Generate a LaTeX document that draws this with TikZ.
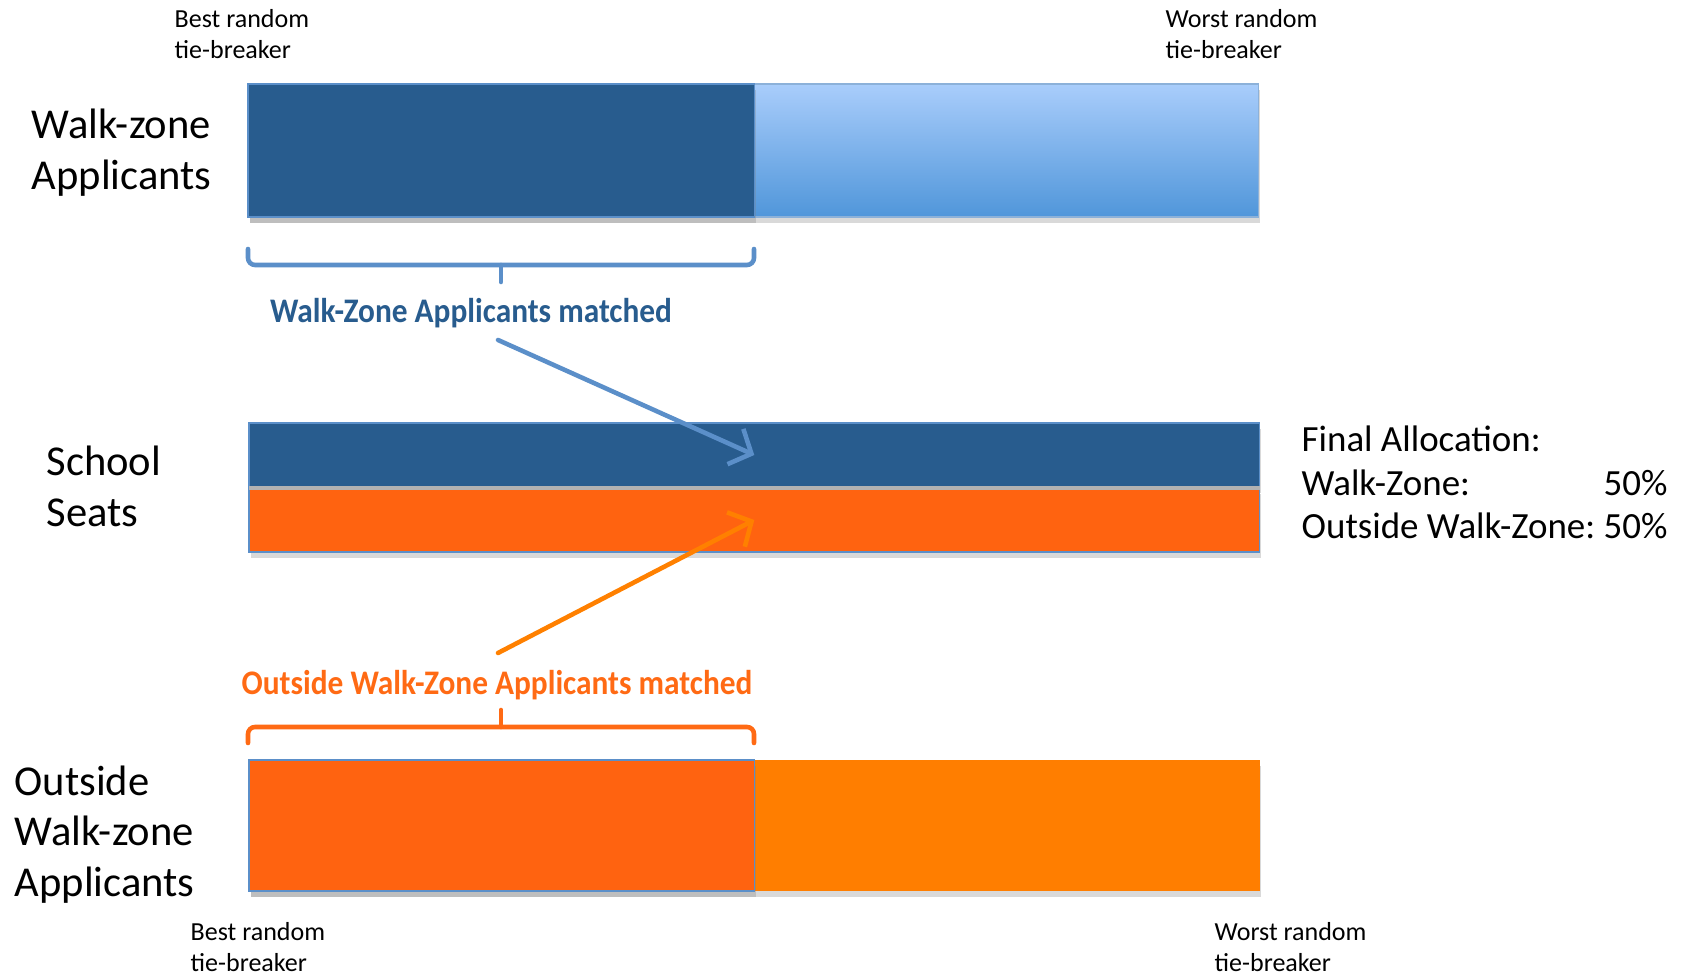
\documentclass[tikz,border=0pt]{standalone}
\usepackage{fontspec}
\setmainfont{Carlito}
\usetikzlibrary{shadows,arrows.meta}

\definecolor{wzdark}{HTML}{285C8E}
\definecolor{wztop}{HTML}{A9CDFB}
\definecolor{wzbottom}{HTML}{5096DA}
\definecolor{wzline}{HTML}{5B8FC9}
\definecolor{owdark}{HTML}{FF6310}
\definecolor{owlight}{HTML}{FF7E00}
\definecolor{owtext}{HTML}{FF6A14}
\definecolor{owarrow}{HTML}{FF8000}

\newcommand{\squeezed}[1]{\scalebox{0.91}[1]{#1}}

\begin{document}
\begin{tikzpicture}[
		x=0.01cm, y=-0.01cm,
		bar/.style={inner sep=0pt, outer sep=0pt, anchor=north west,
			drop shadow={shadow xshift=0.5pt, shadow yshift=-1.6pt, opacity=0.3}},
		label/.style={inner sep=0pt, anchor=base west, align=left},
		small/.style={label, font=\fontsize{7.4}{9}\selectfont},
		big/.style={label, font=\fontsize{12.1}{14.5}\selectfont},
		matched/.style={inner sep=0pt, anchor=base, font=\fontsize{9.8}{11}\selectfont\bfseries},
		brace/.style={line width=1.3pt, rounded corners=2pt, line cap=round},
		pointer/.style={line width=1.3pt, line cap=round,
			-{Straight Barb[length=5pt, width=11pt, line width=1.3pt]}}
		]
		
		\useasboundingbox (0,0) rectangle (1693,977);
		
		% walk-zone applicants
		\node[bar, minimum width=10.1cm, minimum height=1.33cm, top color=wztop, bottom color=wzbottom, draw=wzline!70] (wzbar) at (248,84) {};
		\node[bar, minimum width=5.06cm, minimum height=1.33cm, fill=wzdark, draw=wzline] (wzmatch) at (248,84) {};
		\node[big] (wzname) at (31,190) {Walk-zone\\Applicants};
		\node[small] (wzbest) at (174,59) {Best random\\tie-breaker};
		\node[small] (wzworst) at (1165,59) {Worst random\\tie-breaker};
		
		\draw[brace, wzline] (248,249) -- (248,265) -- (754,265) -- (754,249);
		\draw[brace, wzline] (501,265) -- (501,282);
		\node[matched, text=wzdark] (wzlabel) at (471,323) {\squeezed{Walk-Zone Applicants matched}};
		
		% school seats
		\node[bar, minimum width=10.1cm, minimum height=0.64cm, fill=wzdark, draw=wzline] (seatwz) at (249,423) {};
		\node[bar, minimum width=10.1cm, minimum height=0.64cm, fill=owdark, draw=wzline] (seatow) at (249,488) {};
		\draw[gray!60, line width=1pt] (seatow.north west) -- (seatow.north east);
		\node[big] (seatname) at (46,527) {School\\Seats};
		\node[label, font=\fontsize{10.5}{12.3}\selectfont] (alloc) at (1301,452) {%
			\begin{tabular}[t]{@{}l@{\ }r@{}}
				Final Allocation: & \\
				Walk-Zone: & 50\% \\
				Outside Walk-Zone: & 50\%
		\end{tabular}};
		
		% outside walk-zone applicants
		\node[matched, text=owtext] (owlabel) at (497,695) {\squeezed{Outside Walk-Zone Applicants matched}};
		\draw[brace, owtext] (248,743) -- (248,727) -- (754,727) -- (754,743);
		\draw[brace, owtext] (501,727) -- (501,710);
		
		\node[bar, minimum width=10.1cm, minimum height=1.31cm, fill=owlight] (owbar) at (249,760) {};
		\node[bar, minimum width=5.05cm, minimum height=1.31cm, fill=owdark, draw=wzline] (owmatch) at (249,760) {};
		\node[big] (owname) at (14,897) {Outside\\Walk-zone\\Applicants};
		\node[small] (owbest) at (190,972) {Best random\\tie-breaker};
		\node[small] (owworst) at (1214,972) {Worst random\\tie-breaker};
		
		% arrows into the seats
		\coordinate (wztail) at (498,340);
		\coordinate (owtail) at (498,653);
		\draw[pointer, wzline] (wztail) -- (seatwz.center);
		\draw[pointer, owarrow] (owtail) -- (seatow.center);
		
	\end{tikzpicture}
\end{document}
